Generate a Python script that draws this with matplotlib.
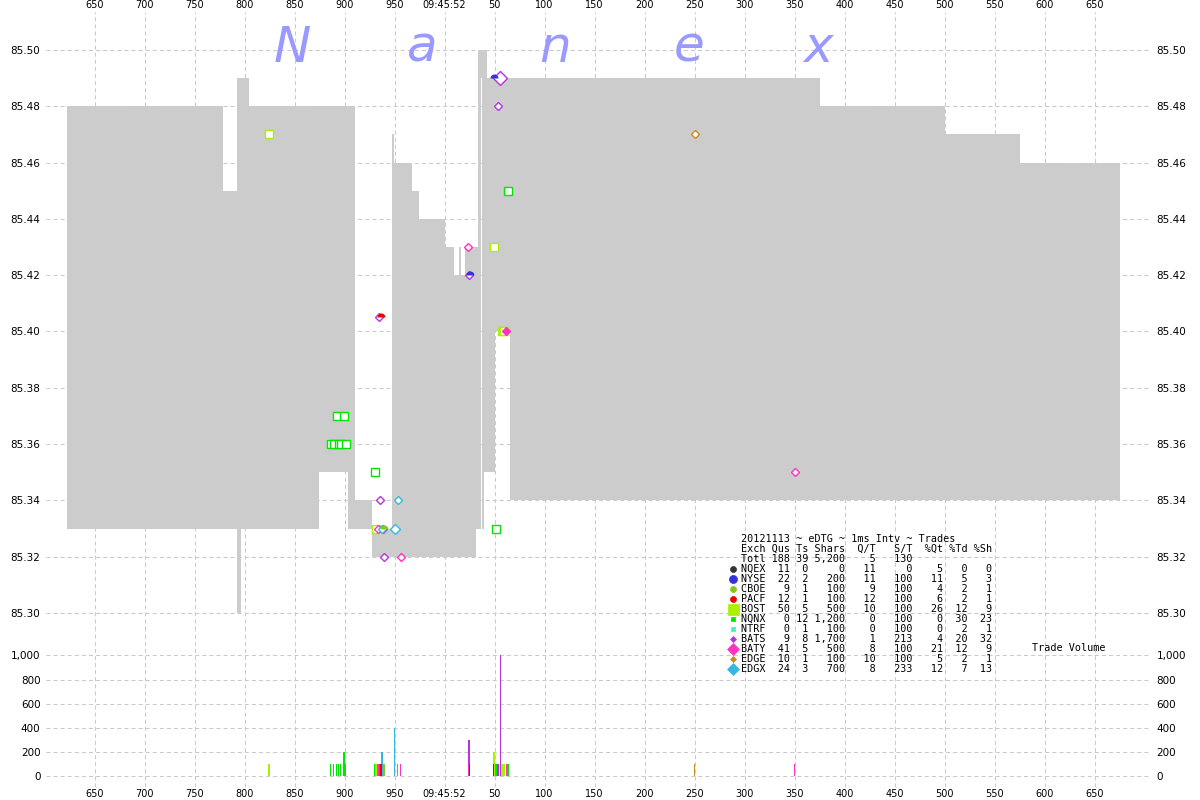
import matplotlib
matplotlib.use("Agg")
import matplotlib.pyplot as plt
from matplotlib.lines import Line2D
from matplotlib.markers import MarkerStyle
from matplotlib.ticker import FixedLocator, FuncFormatter
import numpy as np

plt.rcParams['font.family'] = ['DejaVu Sans']
plt.rcParams['lines.scale_dashes'] = False

W, H = 1200, 800

# ---- NBBO band: segment start (ms after 09:45:52.000), best ask, best bid ----
band_t = [-378, -222, -208, -204, -196, -126, -97, -90, -73, -53, -51, -33, -26, 0,
          9, 14, 16, 20, 31, 33, 36, 37, 39, 42, 50, 65, 375, 500, 575, 675]
band_ask = [85.48, 85.45, 85.49, 85.49, 85.48, 85.48, 85.48, 85.34, 85.33, 85.47,
            85.46, 85.45, 85.44, 85.43, 85.42, 85.43, 85.42, 85.43, 85.43, 85.50,
            85.50, 85.50, 85.50, 85.49, 85.49, 85.49, 85.48, 85.47, 85.46, 85.46]
band_bid = [85.33, 85.33, 85.30, 85.33, 85.33, 85.35, 85.33, 85.33, 85.32, 85.32,
            85.32, 85.32, 85.32, 85.32, 85.32, 85.32, 85.32, 85.32, 85.33, 85.33,
            85.49, 85.33, 85.35, 85.35, 85.40, 85.34, 85.34, 85.34, 85.34, 85.34]

# ---- trades ----
trade_ms = [-175.5,
            -114, -111, -108, -106, -104, -100.5, -99, -70, 51.5, 63.5,
            -68.5, 49.5, 57.5, 59.5,
            -65.5, -65, -62, -61, 24.5, 53.5, 55.8,
            -66.5, -44, 23.8, 61.8, 350,
            -62.5, -50, -47,
            250,
            25.2, 49,
            -63.5,
            -60.5]
trade_price = [85.47,
               85.36, 85.36, 85.37, 85.36, 85.36, 85.37, 85.36, 85.35, 85.33, 85.45,
               85.33, 85.43, 85.40, 85.40,
               85.405, 85.34, 85.33, 85.32, 85.42, 85.48, 85.49,
               85.33, 85.32, 85.43, 85.40, 85.35,
               85.33, 85.33, 85.34,
               85.47,
               85.42, 85.49,
               85.405,
               85.33]
trade_size = [100,
              100, 100, 100, 100, 100, 200, 100, 100, 100, 100,
              100, 200, 100, 100,
              100, 100, 100, 100, 300, 100, 1000,
              100, 100, 100, 100, 100,
              200, 400, 100,
              100,
              100, 100,
              100,
              100]
trade_exch = ["BOST",
              "NQNX", "NQNX", "NQNX", "NQNX", "NQNX", "NQNX", "NQNX", "NQNX", "NQNX", "NQNX",
              "BOST", "BOST", "BOST", "BOST",
              "BATS", "BATS", "BATS", "BATS", "BATS", "BATS", "BATS",
              "BATY", "BATY", "BATY", "BATY", "BATY",
              "EDGX", "EDGX", "EDGX",
              "EDGE",
              "NYSE", "NYSE",
              "PACF",
              "CBOE"]
solid_trades = [13, 25]

# ---- exchange summary table ----
exch_names = ["NQEX", "NYSE", "CBOE", "PACF", "BOST", "NQNX", "NTRF", "BATS", "BATY", "EDGE", "EDGX"]
exch_qus = [11, 22, 9, 12, 50, 0, 0, 9, 41, 10, 24]
exch_ts = [0, 2, 1, 1, 5, 12, 1, 8, 5, 1, 3]
exch_shars = [0, 200, 100, 100, 500, 1200, 100, 1700, 500, 100, 700]
exch_qt = [11, 11, 9, 12, 10, 0, 0, 1, 8, 10, 8]
exch_st = [0, 100, 100, 100, 100, 100, 100, 213, 100, 100, 233]
exch_pqt = [5, 11, 4, 6, 26, 0, 0, 4, 21, 5, 12]
exch_ptd = [0, 5, 2, 2, 12, 30, 2, 20, 12, 2, 7]
exch_psh = [0, 3, 1, 1, 9, 23, 1, 32, 9, 1, 13]
total_row = ["Totl", 188, 39, 5200, 5, 130]
table_title = "20121113 ~ eDTG ~ 1ms Intv ~ Trades"
table_header = ["Exch", "Qus", "Ts", "Shars", "Q/T", "S/T", "%Qt", "%Td", "%Sh"]

x_ticks = list(range(-350, 651, 50))
price_ticks = [85.30, 85.32, 85.34, 85.36, 85.38, 85.40, 85.42, 85.44, 85.46, 85.48, 85.50]
vol_ticks = [0, 200, 400, 600, 800, 1000]

# shape, colour, legend marker width (px)
exch_style = {
    "NQEX": ("o", "#333333", 6),
    "NYSE": ("o", "#3333dd", 8),
    "CBOE": ("o", "#88c422", 6),
    "PACF": ("o", "#ee0000", 6),
    "BOST": ("s", "#aaf000", 11),
    "NQNX": ("s", "#00e600", 5),
    "NTRF": ("s", "#44f0c0", 5),
    "BATS": ("D", "#b833e0", 6),
    "BATY": ("D", "#ff33c0", 12),
    "EDGE": ("D", "#cc8a22", 6),
    "EDGX": ("D", "#33b8e0", 11),
}


def msize(shape, width_px):
    w = width_px * 0.72
    return w / 1.414 if shape == "D" else w


def fx(px):
    return px / W


def fy(py):
    return 1 - py / H


GRID = dict(color="#cacaca", linestyle=(0, (2.9, 2.2)), linewidth=0.75)
X_LIM = (-398.5, 706.5)

fig = plt.figure(figsize=(12, 8), dpi=100)
ax = fig.add_axes([fx(46), fy(630), fx(1151) - fx(46), fy(12) - fy(630)])
axv = fig.add_axes([fx(46), fy(787), fx(1151) - fx(46), fy(630) - fy(787)], sharex=ax)

for a in (ax, axv):
    for s in a.spines.values():
        s.set_visible(False)
    a.set_axisbelow(True)
    a.grid(True, **GRID)
    a.xaxis.set_major_locator(FixedLocator(x_ticks))
    a.set_facecolor("white")


def xlab(v, pos=None):
    v = int(round(v))
    if v == 0:
        return "09:45:52"
    return str(1000 + v) if v < 0 else str(v)


ax.set_xlim(*X_LIM)
ax.xaxis.set_major_formatter(FuncFormatter(xlab))
axv.xaxis.set_major_formatter(FuncFormatter(xlab))

# price panel
ax.set_ylim(85.29396, 85.5135)
ax.yaxis.set_major_locator(FixedLocator(price_ticks))
ax.yaxis.set_major_formatter(FuncFormatter(lambda v, p: f"{v:.2f}"))
ax.tick_params(axis="x", which="both", length=0, labeltop=True, labelbottom=False,
               labelsize=7, pad=1.5)
ax.tick_params(axis="y", length=0, labelleft=True, labelright=True, labelsize=7.5, pad=4)

ax.fill_between(band_t, band_bid, band_ask, step="post", color="#cccccc",
                linewidth=0, zorder=1, antialiased=False)

for i, (t, p, sz, ex) in enumerate(zip(trade_ms, trade_price, trade_size, trade_exch)):
    shape, col, _ = exch_style[ex]
    width_px = max(8.0, 4.7 * np.sqrt(sz / 100.0))
    if shape == "o":
        ax.plot([t], [p], linestyle="none",
                marker=MarkerStyle("o", fillstyle="top"), markersize=msize("o", width_px),
                markerfacecolor=col, markerfacecoloralt="none", markeredgewidth=0, zorder=4)
    else:
        face = col if i in solid_trades else "white"
        ax.plot([t], [p], linestyle="none", marker=shape,
                markersize=msize(shape, width_px), markerfacecolor=face,
                markeredgecolor=col, markeredgewidth=1.0, zorder=3)

# volume panel
axv.set_ylim(-86.8, 1210.7)
axv.yaxis.set_major_locator(FixedLocator(vol_ticks))
axv.yaxis.set_major_formatter(FuncFormatter(lambda v, p: f"{int(v):,}"))
axv.tick_params(axis="x", length=0, labeltop=False, labelbottom=True, labelsize=7, pad=1.5)
axv.tick_params(axis="y", length=0, labelleft=True, labelright=True, labelsize=7.5, pad=4)
axv.bar(trade_ms, trade_size, width=1.3,
        color=[exch_style[e][1] for e in trade_exch], linewidth=0, zorder=2)

# brand lettering
for ch, px in zip("Nanex", [292, 422, 555, 689, 818]):
    fig.text(fx(px), fy(62), ch, color="#9999ff", fontsize=36, style="italic",
             ha="center", va="baseline", zorder=6)

# summary table
MONO = dict(family="DejaVu Sans Mono", fontsize=7.3, va="center", ha="left", zorder=10)


def row(n, a, b, c, d, e, f, g, h):
    return f"{n:<4} {a:>3} {b:>2} {c:>5}{d:>5}{e:>6}{f:>5}{g:>4}{h:>4}"


tx = 741
fig.text(fx(tx), fy(539), table_title, **MONO)
fig.text(fx(tx), fy(549), row(*table_header), **MONO)
fig.text(fx(tx), fy(559),
         f"{total_row[0]:<4} {total_row[1]:>3} {total_row[2]:>2} {total_row[3]:>5,}"
         f"{total_row[4]:>5}{total_row[5]:>6}", **MONO)
for k, name in enumerate(exch_names):
    y = 569 + 10 * k
    fig.text(fx(tx), fy(y),
             row(name, exch_qus[k], exch_ts[k], f"{exch_shars[k]:,}", exch_qt[k],
                 exch_st[k], exch_pqt[k], exch_ptd[k], exch_psh[k]), **MONO)
    shape, col, wpx = exch_style[name]
    fig.add_artist(Line2D([fx(733)], [fy(y)], transform=fig.transFigure, linestyle="none",
                          marker=shape, markersize=msize(shape, wpx), markerfacecolor=col,
                          markeredgecolor=col, markeredgewidth=0.5, zorder=10))

fig.text(fx(1032), fy(648), "Trade Volume", **MONO)

fig.savefig("out.png", dpi=100, facecolor="white")
